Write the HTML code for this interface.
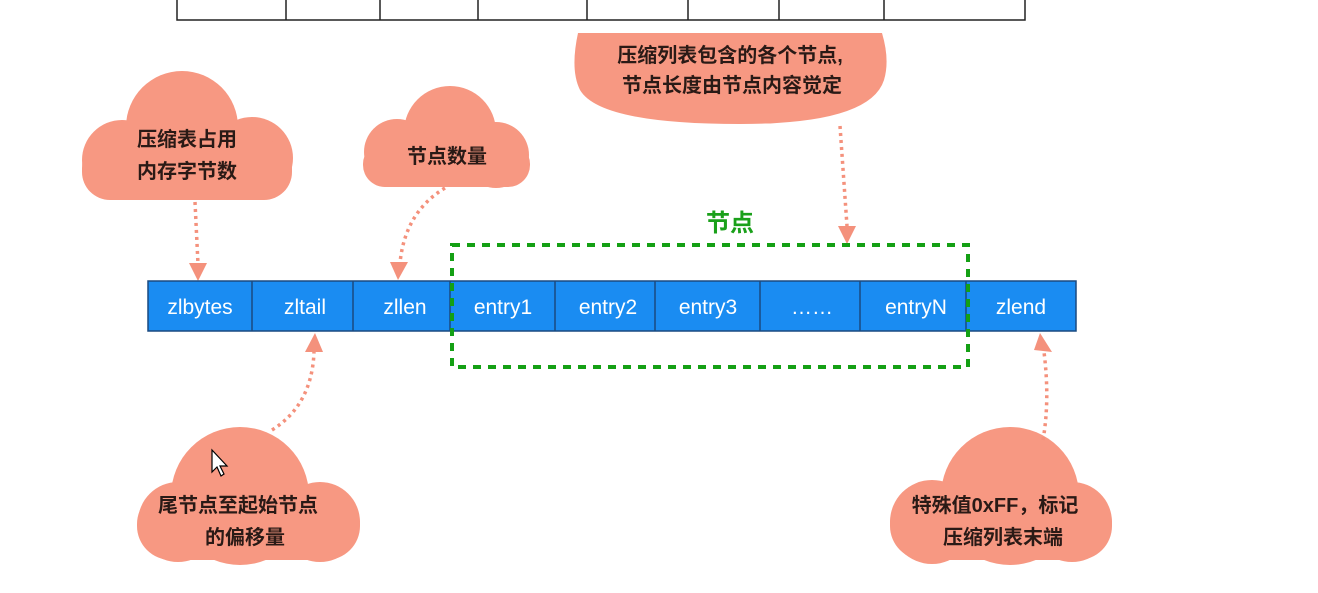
<!DOCTYPE html>
<html><head><meta charset="utf-8"><style>
html,body{margin:0;padding:0;background:#fff;}
svg{display:block;}
.c{fill:#f79882;}
.t{font-family:"Liberation Sans","Noto Sans CJK SC",sans-serif;font-weight:bold;font-size:20px;fill:#2a1a16;text-anchor:middle;}
.w{font-family:"Liberation Sans","Noto Sans CJK SC",sans-serif;font-size:21px;fill:#fff;text-anchor:middle;}
.a{stroke:#f4917c;stroke-width:3.5;fill:none;stroke-dasharray:3 4;}
.h{fill:#f4917c;}
</style></head><body>
<svg width="1318" height="593" viewBox="0 0 1318 593" xmlns="http://www.w3.org/2000/svg">
<g stroke="#222" stroke-width="1.5" fill="none">
<path d="M177,0 V20 H1025 V0"/>
<path d="M286,0V20M380,0V20M478,0V20M587,0V20M688,0V20M779,0V20M884,0V20"/>
</g>
<g class="c">
<circle cx="182" cy="127" r="56"/><circle cx="122" cy="160" r="40"/><circle cx="252" cy="158" r="41"/><rect x="82" y="140" width="210" height="60" rx="28"/>
<circle cx="450" cy="132" r="46"/><circle cx="397" cy="152" r="33"/><circle cx="496" cy="155" r="33"/><rect x="363" y="142" width="167" height="45" rx="22"/>
<path d="M578,33 H882 Q890,60 884,80 Q870,124 740,124 Q600,124 580,90 Q570,70 578,33 Z"/>
<circle cx="240" cy="496" r="69"/><circle cx="178" cy="522" r="40"/><circle cx="320" cy="522" r="40"/><rect x="137" y="490" width="223" height="70" rx="34"/>
<circle cx="1010" cy="496" r="69"/><circle cx="932" cy="522" r="42"/><circle cx="1072" cy="522" r="40"/><rect x="890" y="490" width="222" height="70" rx="34"/>
</g>
<text class="t" x="187" y="146">压缩表占用</text>
<text class="t" x="187" y="178">内存字节数</text>
<text class="t" x="447" y="163">节点数量</text>
<text class="t" x="730" y="62">压缩列表包含的各个节点,</text>
<text class="t" x="732" y="92">节点长度由节点内容觉定</text>
<text class="t" x="238" y="512">尾节点至起始节点</text>
<text class="t" x="245" y="544">的偏移量</text>
<text class="t" x="995" y="512">特殊值0xFF，标记</text>
<text class="t" x="1003" y="544">压缩列表末端</text>
<path class="a" d="M195,202 L198,264"/><path class="h" d="M189,263 L207,263 L198,281Z"/>
<path class="a" d="M445,188 Q405,212 400,263"/><path class="h" d="M390,262 L408,262 L398,280Z"/>
<path class="a" d="M840,126 L847,226"/><path class="h" d="M838,226 L856,226 L847,244Z"/>
<path class="a" d="M272,430 Q312,405 314,352"/><path class="h" d="M305,352 L323,352 L315,333Z"/>
<path class="a" d="M1043,440 Q1050,400 1044,352"/><path class="h" d="M1034,350 L1052,352 L1040,333Z"/>
<rect x="148" y="281" width="928" height="50" fill="#1a8cf2" stroke="#1a4a80" stroke-width="1.5"/>
<path d="M252,281V331M353,281V331M450,281V331M555,281V331M655,281V331M760,281V331M860,281V331M966,281V331" stroke="#1a4a80" stroke-width="1.5"/>
<text class="w" x="200" y="314">zlbytes</text>
<text class="w" x="305" y="314">zltail</text>
<text class="w" x="405" y="314">zllen</text>
<text class="w" x="503" y="314">entry1</text>
<text class="w" x="608" y="314">entry2</text>
<text class="w" x="708" y="314">entry3</text>
<text class="w" x="812" y="314">……</text>
<text class="w" x="916" y="314">entryN</text>
<text class="w" x="1021" y="314">zlend</text>
<rect x="452" y="245" width="516" height="122" fill="none" stroke="#14a014" stroke-width="4" stroke-dasharray="8 7"/>
<text x="730" y="231" font-family="Liberation Sans,Noto Sans CJK SC,sans-serif" font-weight="bold" font-size="24" fill="#1aa01a" text-anchor="middle">节点</text>
<path d="M212,450 L212,472 L217,467 L221,476 L224,474 L220,466 L227,466 Z" fill="#fff" stroke="#000" stroke-width="1.2"/>
</svg>
</body></html>
